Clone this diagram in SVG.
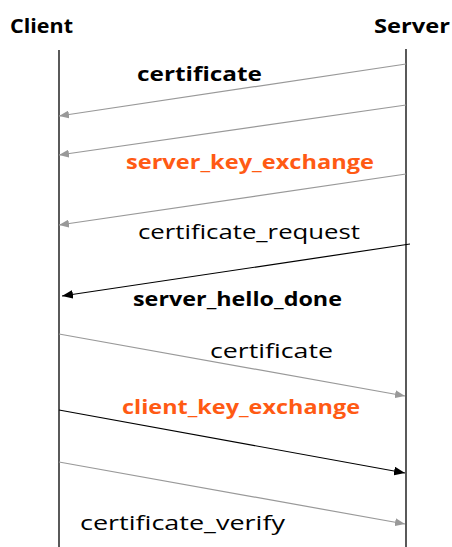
<svg xmlns="http://www.w3.org/2000/svg" width="452" height="547" viewBox="0 0 452 547">
  <style>
    .lbl { font-family: "Comic Sans MS", "Open Sans", "DejaVu Sans", sans-serif; font-size: 20px; fill: #000; }
    .b { font-weight: bold; }
    .hot { fill: #ff5a14; }
    .life { stroke: #000; stroke-width: 1.3; fill: none; }
    .msg { stroke: #999; stroke-width: 1.2; fill: none; marker-end: url(#headGray); }
    .msg.strong { stroke: #000; marker-end: url(#headBlack); }
  </style>
  <defs>
    <marker id="headGray" viewBox="0 0 10 8" refX="10" refY="4" markerWidth="10" markerHeight="8" markerUnits="userSpaceOnUse" orient="auto">
      <path d="M0,0 L10,4 L0,8 Z" fill="#999"/>
    </marker>
    <marker id="headBlack" viewBox="0 0 10 8" refX="10" refY="4" markerWidth="11" markerHeight="9" markerUnits="userSpaceOnUse" orient="auto">
      <path d="M0,0 L10,4 L0,8 Z" fill="#000"/>
    </marker>
  </defs>

  <g id="client">
    <text class="lbl b" x="10" y="33" textLength="63" lengthAdjust="spacingAndGlyphs">Client</text>
    <line class="life" x1="59" y1="50" x2="59" y2="547"/>
  </g>
  <g id="server">
    <text class="lbl b" x="374" y="33" textLength="76" lengthAdjust="spacingAndGlyphs">Server</text>
    <line class="life" x1="406" y1="49" x2="406" y2="547"/>
  </g>

  <g id="connectors">
    <line class="msg" x1="406" y1="64" x2="59" y2="116"/>
    <line class="msg" x1="406" y1="105" x2="59" y2="155"/>
    <line class="msg" x1="406" y1="174" x2="59" y2="225"/>
    <line class="msg strong" x1="410" y1="244" x2="62" y2="296"/>
    <line class="msg" x1="59" y1="334" x2="405" y2="396"/>
    <line class="msg strong" x1="59" y1="410" x2="405" y2="473"/>
    <line class="msg" x1="59" y1="462" x2="405" y2="524"/>
  </g>

  <g id="labels">
    <text class="lbl b" x="137" y="81" textLength="125" lengthAdjust="spacingAndGlyphs">certificate</text>
    <text class="lbl b hot" x="126" y="169" textLength="248" lengthAdjust="spacingAndGlyphs">server_key_exchange</text>
    <text class="lbl" x="138" y="239" textLength="222" lengthAdjust="spacingAndGlyphs">certificate_request</text>
    <text class="lbl b" x="133" y="306" textLength="209" lengthAdjust="spacingAndGlyphs">server_hello_done</text>
    <text class="lbl" x="210" y="358" textLength="123" lengthAdjust="spacingAndGlyphs">certificate</text>
    <text class="lbl b hot" x="122" y="414" textLength="238" lengthAdjust="spacingAndGlyphs">client_key_exchange</text>
    <text class="lbl" x="80" y="530" textLength="205" lengthAdjust="spacingAndGlyphs">certificate_verify</text>
  </g>
</svg>
